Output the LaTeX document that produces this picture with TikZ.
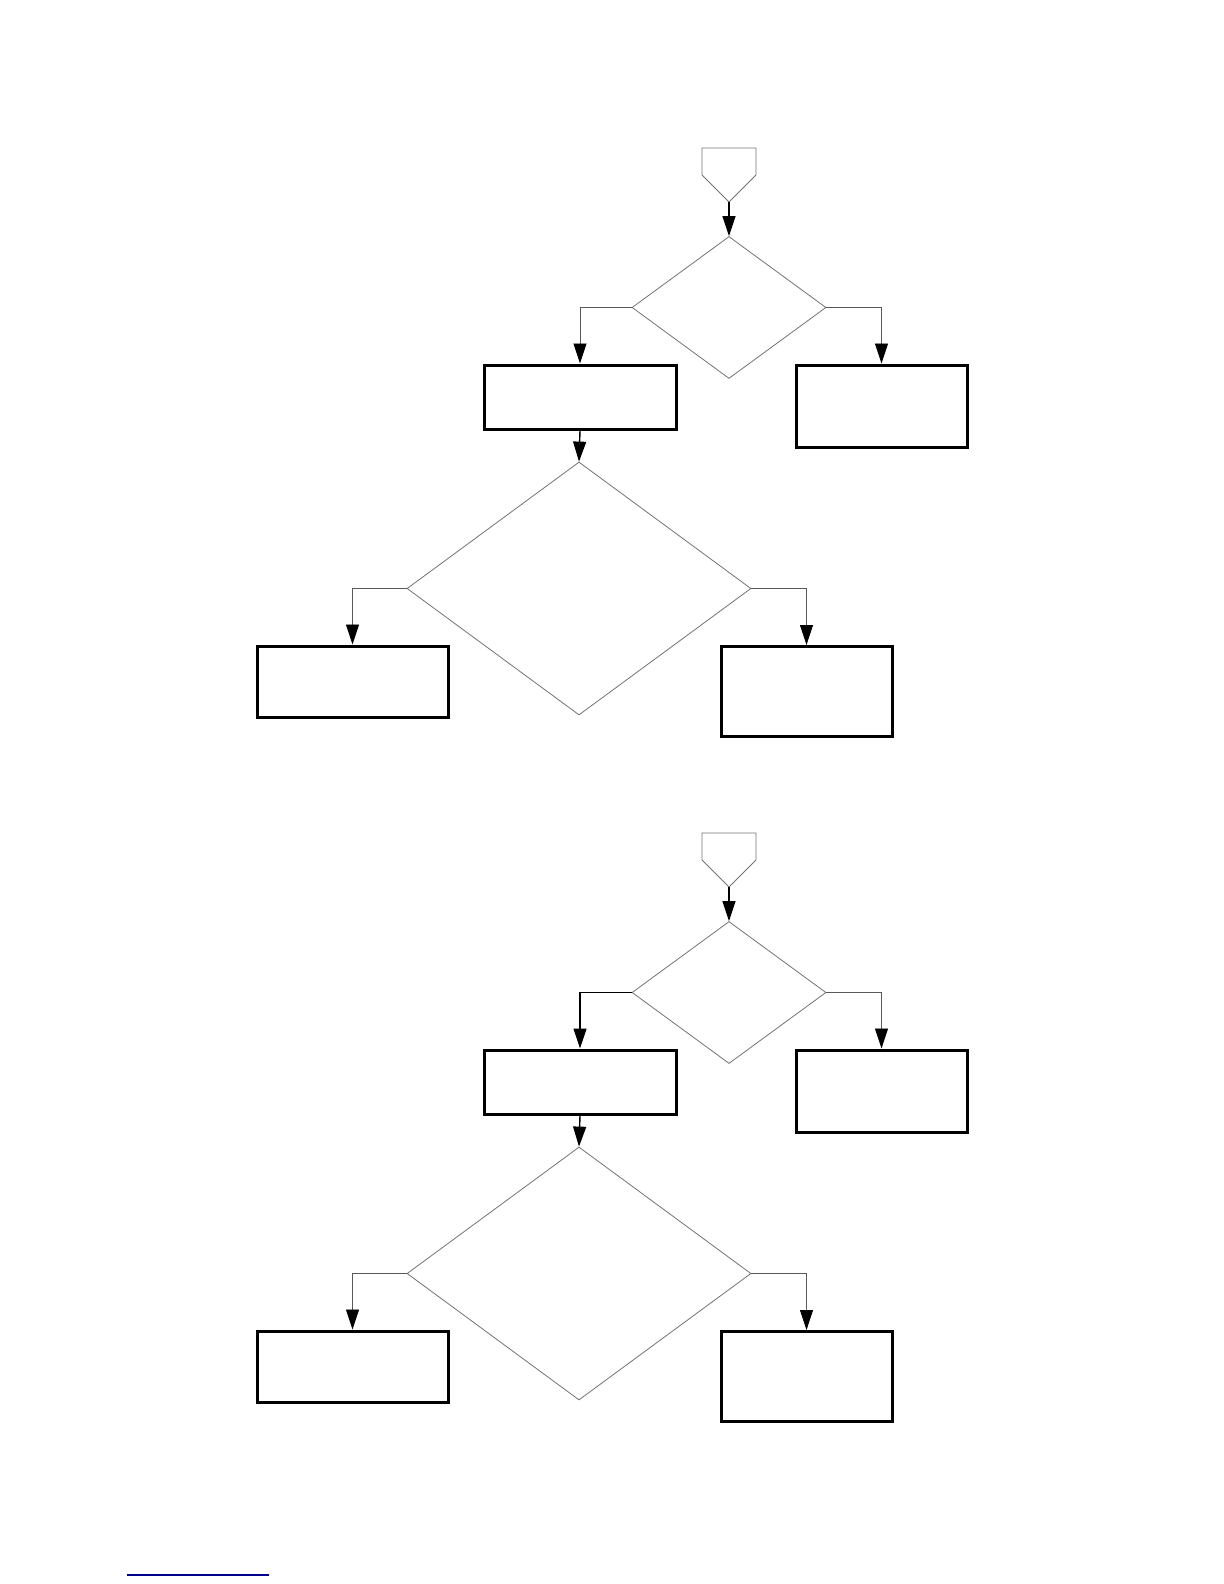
\documentclass[tikz,border=0pt]{standalone}
\usetikzlibrary{shapes.geometric,arrows.meta}
\definecolor{navy}{RGB}{0,0,140}
\begin{document}
\begin{tikzpicture}[x=0.5pt,y=-0.5pt,
  dec/.style={diamond,draw=black!55,line width=0.4pt,inner sep=0pt},
  procbox/.style={rectangle,draw=black,line width=1.5pt,inner sep=0pt,fill=white},
  conn/.style={draw=black!65,line width=0.45pt,-{Triangle[length=10pt,width=6.5pt,color=black]}},
  mainconn/.style={draw=black,line width=0.7pt,-{Triangle[length=10pt,width=6.5pt,color=black]}},
  offpage/.style={draw=black!55,line width=0.4pt}]
\useasboundingbox (0,0) rectangle (1224,1584);
\foreach \i/\dy in {1/0,2/685}{
  \begin{scope}[shift={(0,\dy)}]
    \draw[offpage] (702,148) -- (756,148) -- (756,175) -- (729,202) -- (702,175) -- cycle;
    \coordinate (s\i) at (729,202);
    \node[dec,minimum width=97pt,minimum height=71pt] (da\i) at (729,307.5) {};
    \node[procbox,minimum width=96pt,minimum height=32pt] (ba\i) at (580,397) {};
    \node[procbox,minimum width=85.5pt,minimum height=41pt] (bb\i) at (881.5,406) {};
    \node[dec,minimum width=172pt,minimum height=126.5pt] (db\i) at (579,588.5) {};
    \node[procbox,minimum width=95.5pt,minimum height=35.5pt] (bc\i) at (352.5,681.5) {};
    \node[procbox,minimum width=85.5pt,minimum height=45pt] (bd\i) at (806.5,691.5) {};
  \end{scope}
  \draw[mainconn] (s\i) -- (da\i.north);
  \draw[mainconn] (ba\i.south) -- (db\i.north);
  \draw[conn] (da\i.east) -| (bb\i.north);
  \draw[conn] (db\i.east) -| (bd\i.north);
}
\draw[conn] (da1.west) -| (ba1.north);
\draw[conn] (db1.west) -| (bc1.north);
\draw[mainconn,line width=0.6pt] (da2.west) -| (ba2.north);
\draw[conn] (db2.west) -| (bc2.north);
\draw[navy,line width=0.8pt] (127,1575) -- (269,1575);
\end{tikzpicture}
\end{document}
